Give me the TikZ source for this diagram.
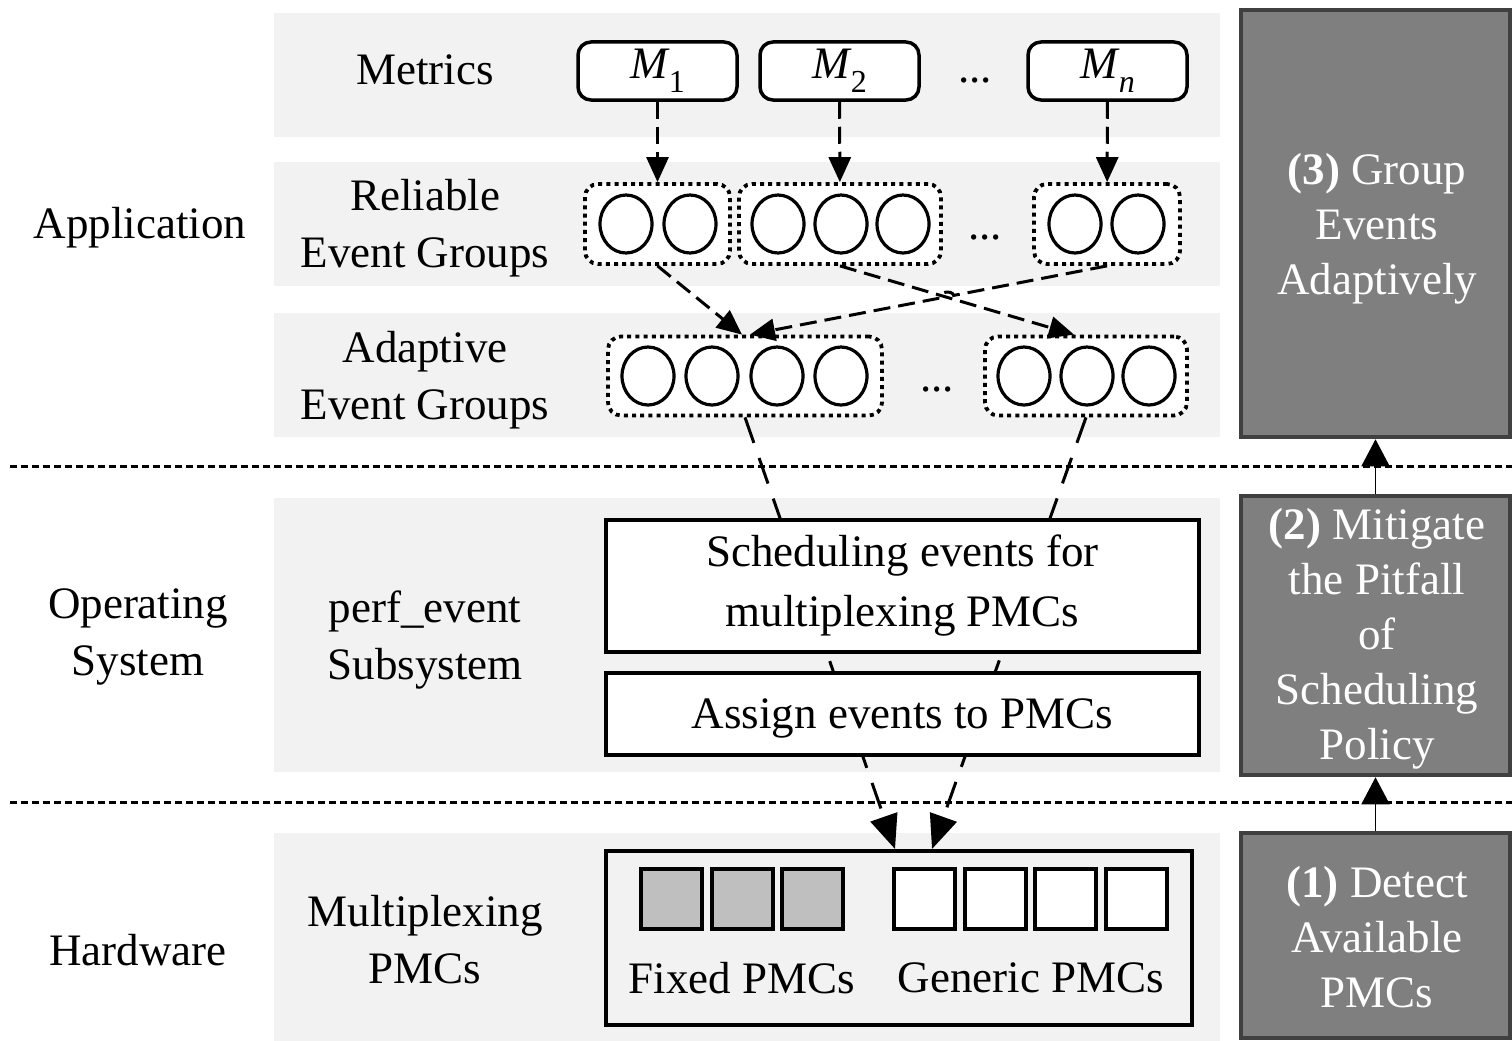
\documentclass[tikz,border=0pt]{standalone}
\usepackage{fontspec}
\setmainfont{Liberation Serif}
\usetikzlibrary{arrows.meta,calc,intersections,shapes.geometric}
\definecolor{band}{HTML}{F2F2F2}
\definecolor{fixedgray}{HTML}{BFBFBF}
\definecolor{stepfill}{HTML}{7F7F7F}
\definecolor{stepdraw}{HTML}{404040}
\newcommand{\mysub}[1]{\kern-1pt\raisebox{-0.3em}{\fontsize{32pt}{32pt}\selectfont #1}}
\begin{document}
\begin{tikzpicture}[x=1pt,y=-1pt,font=\rmfamily\fontsize{45pt}{57pt}\selectfont,
  metric/.style={draw,line width=3.5pt,rounded corners=13pt,minimum width=159pt,minimum height=58pt,inner sep=0pt,fill=white},
  grp/.style={draw,line width=3.8pt,dash pattern=on 4pt off 4.2pt,rounded corners=13pt,minimum height=80pt,inner sep=0pt,fill=white},
  evt/.style={draw,ellipse,line width=3.2pt,minimum width=52pt,minimum height=58pt,inner sep=0pt},
  box/.style={draw,line width=4pt,fill=white,inner sep=0pt,minimum width=593pt,align=center},
  pmc/.style={draw,line width=4pt,minimum width=61pt,minimum height=60pt,inner sep=0pt},
  stepbox/.style={draw=stepdraw,fill=stepfill,line width=4.5pt,minimum width=269pt,inner sep=0pt},
  steptext/.style={inner sep=0pt,text=white,align=center,font=\rmfamily\fontsize{45pt}{55pt}\selectfont},
  lbl/.style={align=center,inner sep=0pt},
  sep/.style={line width=3pt,dash pattern=on 7pt off 4pt},
  dsh/.style={line width=3pt,dash pattern=on 17pt off 8pt,-{Triangle[length=25pt,width=22pt]}},
  lng/.style={line width=3pt,dash pattern=on 27pt off 16pt,-{Triangle[length=34pt,width=28pt]}},
  up/.style={line width=1.8pt,-{Triangle[length=27pt,width=28pt]}}]
\useasboundingbox (0,0) rectangle (1512,1041);
% bands
\fill[band] (274,13) rectangle (1220,137);
\fill[band] (274,162) rectangle (1220,286);
\fill[band] (274,313) rectangle (1220,437);
\fill[band] (274,498) rectangle (1220,772);
\fill[band] (274,833) rectangle (1220,1041);
% separators
\coordinate (s1a) at (10,466); \coordinate (s1b) at (1512,466);
\coordinate (s2a) at (10,802); \coordinate (s2b) at (1512,802);
\draw[sep] (s1a) -- (s1b);
\draw[sep] (s2a) -- (s2b);
% left labels
\node[lbl] (app) at (140,228) {Application};
\node[lbl] (os) at (138,637) {Operating\\System};
\node[lbl] (hwl) at (138,950) {Hardware};
\node[lbl] (met) at (425,70) {Metrics};
\node[lbl] (rel) at (425,228) {Reliable\\Event Groups};
\node[lbl] (ada) at (425,380) {Adaptive\\Event Groups};
\node[lbl] (perf) at (425,640) {perf\_event\\Subsystem};
\node[lbl] (mux) at (425,940) {Multiplexing\\PMCs};
% metrics
\node[metric] (M1) at (657.5,71) {\textit{M}\mysub{1}};
\node[metric] (M2) at (839.5,71) {\textit{M}\mysub{2}};
\node[metric] (Mn) at (1107.5,71) {\textit{M}\mysub{\textit{n}}};
\node[lbl] (d1) at (975,80) {...};
% reliable groups
\node[grp,minimum width=145pt] (G1) at (657.5,224) {};
\node[grp,minimum width=202pt] (G2) at (840,224) {};
\node[grp,minimum width=146pt] (G3) at (1107,224) {};
\node[evt] (e11) at (626,224) {};
\node[evt] (e12) at (690,224) {};
\node[evt] (e21) at (778,224) {};
\node[evt] (e22) at (841,224) {};
\node[evt] (e23) at (903,224) {};
\node[evt] (e31) at (1075,224) {};
\node[evt] (e32) at (1138,224) {};
\node[lbl] (d2) at (985,237) {...};
% adaptive groups
\node[grp,minimum width=274pt,minimum height=79pt] (A1) at (745,376) {};
\node[grp,minimum width=202pt,minimum height=79pt] (A2) at (1086,376) {};
\node[evt] (a11) at (648,376) {};
\node[evt] (a12) at (712,376) {};
\node[evt] (a13) at (777,376) {};
\node[evt] (a14) at (841,376) {};
\node[evt] (a21) at (1024,376) {};
\node[evt] (a22) at (1087,376) {};
\node[evt] (a23) at (1149,376) {};
\node[lbl] (d3) at (937,389) {...};
% metric -> reliable
\draw[dsh] (M1) -- (G1);
\draw[dsh] (M2) -- (G2);
\draw[dsh] (Mn) -- (G3);
% reliable -> adaptive
\coordinate (a1l) at ([xshift=-3pt]A1.north);
\coordinate (a1r) at ([xshift=5pt]A1.north);
\coordinate (a2t) at ([xshift=-12pt]A2.north);
\path[name path=la] (G2.south) -- (a2t);
\path[name path=lb] (G3.south) -- (a1r);
\path[name intersections={of=la and lb, by=X}];
\draw[dsh] (G1.south) -- (a1l);
\draw[dsh] (G2.south) -- (a2t);
\draw[dsh] (G3.south) -- ($(X)!20pt!(G3.south)$) [dash pattern=on 11pt off 0pt] -- ($(X)!8pt!(G3.south)$) to[bend right=90] ($(X)!8pt!(a1r)$) [dash pattern=on 17pt off 8pt] -- (a1r);
% hardware
\node[draw,line width=4pt,fill=band,minimum width=586pt,minimum height=174pt,inner sep=0pt] (HW) at (899,938) {};
\node[pmc,fill=fixedgray] (f1) at (671.5,899) {};
\node[pmc,fill=fixedgray] (f2) at (742,899) {};
\node[pmc,fill=fixedgray] (f3) at (812.5,899) {};
\node[pmc,fill=white] (g1) at (924,899) {};
\node[pmc,fill=white] (g2) at (995,899) {};
\node[pmc,fill=white] (g3) at (1065,899) {};
\node[pmc,fill=white] (g4) at (1136.5,899) {};
\node[lbl] (fixl) at (742,978) {Fixed PMCs};
\node[lbl] (genl) at (1031,978) {Generic PMCs};
% adaptive -> hardware
\draw[lng] (A1.south) -- ([xshift=-4pt]HW.north);
\draw[lng] (A2.south) -- ([xshift=33pt]HW.north);
% OS boxes
\node[box,minimum height=132pt,font=\rmfamily\fontsize{45pt}{60pt}\selectfont] (sched) at (902.5,586) {Scheduling events for\\multiplexing PMCs};
\node[box,minimum height=82pt] (assign) at (902.5,714) {};
\node[lbl] (assignt) at (902.5,718) {Assign events to PMCs};
% right steps
\node[stepbox,minimum height=427pt] (B3) at (1375.5,223.5) {};
\node[steptext] (B3t) at (1377,228.5) {\textbf{(3)} Group\\Events\\Adaptively};
\node[stepbox,minimum height=279pt] (B2) at (1375.5,635.5) {};
\node[steptext] (B2t) at (1377,638.5) {\textbf{(2)} Mitigate\\the Pitfall\\of\\Scheduling\\Policy};
\node[stepbox,minimum height=205pt] (B1) at (1375.5,935.5) {};
\node[steptext] (B1t) at (1377,937.5) {\textbf{(1)} Detect\\Available\\PMCs};
\draw[up] (B2.north) -- (B3.south);
\draw[up] (B1.north) -- (B2.south);
\end{tikzpicture}
\end{document}
